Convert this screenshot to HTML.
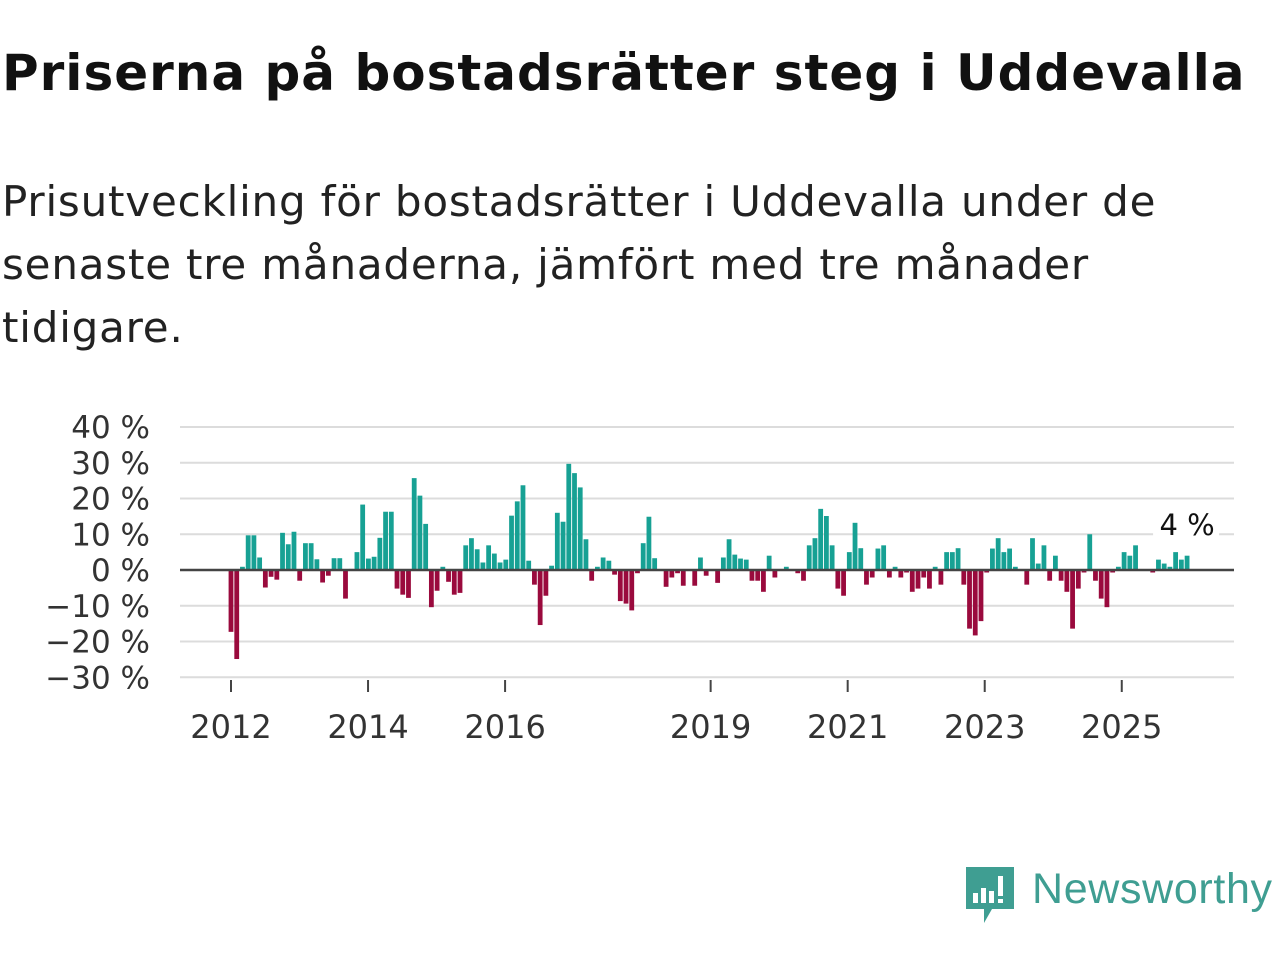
<!DOCTYPE html>
<html><head><meta charset="utf-8"><style>
body{margin:0;width:1280px;height:960px;background:#fff;font-family:"DejaVu Sans","Liberation Sans",sans-serif;overflow:hidden;position:relative}
h1{position:absolute;left:2px;top:44px;margin:0;font-size:50px;font-weight:bold;color:#111;white-space:nowrap;letter-spacing:1px}
.sub{position:absolute;left:2px;top:170px;margin:0;font-size:42px;line-height:63px;color:#222;white-space:nowrap;letter-spacing:0.8px}
svg{position:absolute;left:0;top:0}
</style></head><body>
<h1>Priserna på bostadsrätter steg i Uddevalla</h1>
<p class="sub">Prisutveckling för bostadsrätter i Uddevalla under de<br>senaste tre månaderna, jämfört med tre månader<br>tidigare.</p>
<svg id="chart" width="1280" height="960"></svg>
<svg width="1280" height="960" style="pointer-events:none">
<g>
<path d="M966 867 h48 v42 h-22 l-8 14 v-14 h-18 z" fill="#3f9e92"/>
<rect x="973" y="893" width="5" height="10" fill="#fff"/><rect x="981" y="888" width="5" height="15" fill="#fff"/><rect x="989" y="891" width="5" height="12" fill="#fff"/><rect x="998" y="876" width="5" height="20" fill="#fff"/><rect x="998" y="899" width="5" height="4" fill="#fff"/>
<text x="1032" y="903" font-size="43" fill="#3f9e92" font-family="Liberation Sans, sans-serif" textLength="240">Newsworthy</text>
</g></svg>
<script>
const yTicks=[40,30,20,10,0,-10,-20,-30];
const yearLabels=[2012,2014,2016,2019,2021,2023,2025];
const values=[-17.3,-24.9,0.9,9.7,9.7,3.5,-4.9,-1.9,-2.7,10.4,7.2,10.7,-3.0,7.5,7.5,3.0,-3.5,-1.6,3.3,3.3,-8.0,0.3,5.0,18.3,3.2,3.7,9.0,16.3,16.3,-5.2,-6.9,-7.8,25.7,20.8,12.9,-10.4,-5.8,0.9,-3.3,-6.9,-6.4,6.9,8.9,5.8,2.1,6.9,4.6,2.1,2.9,15.2,19.2,23.7,2.6,
-4.1,-15.4,-7.2,1.2,16.0,13.5,29.7,27.1,23.1,8.6,-3.0,0.9,3.5,2.6,-1.3,-8.7,-9.4,-11.3,-0.9,7.5,14.9,3.3,0.2,-4.7,-2.1,-0.9,-4.4,0.2,-4.4,3.5,-1.6,0.2,-3.6,3.5,8.6,4.3,3.2,2.9,-3.0,-3.0,-6.1,4.0,-2.1,0.2,0.9,0.2,-0.9,-3.0,6.9,8.9,17.1,15.1,6.9,-5.2,-7.2,5.0,13.2,6.1,-4.1,-2.1,6.0,6.9,
-2.1,0.9,-2.1,-0.7,-6.1,-5.2,-2.1,-5.2,0.9,-4.1,5.0,5.0,6.1,-4.1,-16.4,-18.3,-14.3,-0.7,6.0,8.9,5.0,6.0,0.9,0.2,-4.1,8.9,1.8,6.9,-3.0,4.0,-3.0,-6.1,-16.4,-5.2,-0.7,10.0,-3.0,-8.0,-10.4,-0.7,0.9,5.0,4.0,6.9,0.2,0.2,-0.7,2.9,1.8,0.9,5.0,2.9,4.0];
const lastLabel="4 %";
const svg=document.getElementById('chart');
const NS="http://www.w3.org/2000/svg";
const x0=231, step=5.725;
function xs(i){return x0+i*step;}
function ys(v){return 570-v*3.575;}
function xYear(y){return x0+(y-2012)*12*5.71;}
function mk(tag,attrs){const e=document.createElementNS(NS,tag);for(const k in attrs)e.setAttribute(k,attrs[k]);svg.appendChild(e);return e;}
yTicks.forEach(t=>{
  if(t!==0){const g=mk('line',{x1:180,x2:1234,y1:ys(t),y2:ys(t),stroke:'#dcdcdc','stroke-width':2});
  
  }
  const tx=mk('text',{x:150,y:ys(t)+11,'text-anchor':'end','font-size':31,fill:'#333','font-family':'DejaVu Sans, sans-serif'});
  tx.textContent=(t<0?'\u2212'+(-t):t)+' %';
  
  
});
values.forEach((v,i)=>{
  const y=ys(Math.max(v,0)),h=Math.abs(v)*3.575;
  const r=mk('rect',{x:xs(i)-2.4,y:y,width:4.8,height:h,fill:v>=0?'#17a194':'#9a0a3d'});
  
  
});
const z=mk('line',{x1:180,x2:1234,y1:570,y2:570,stroke:'#444','stroke-width':2.5});


yearLabels.forEach(yr=>{
  const x=xYear(yr);
  const tk=mk('line',{x1:x,x2:x,y1:680,y2:692,stroke:'#444','stroke-width':2});
  
  
  const t=mk('text',{x:x,y:738,'text-anchor':'middle','font-size':32,fill:'#333','font-family':'DejaVu Sans, sans-serif'});
  t.textContent=yr;
  
  
});
const lx=xs(values.length-1);
const bg=mk('rect',{x:lx-34,y:506,width:66,height:34,fill:'#fff'});


const lb=mk('text',{x:lx,y:535,'text-anchor':'middle','font-size':29,fill:'#111','font-family':'DejaVu Sans, sans-serif'});
lb.textContent=lastLabel;


</script>
</body></html>
